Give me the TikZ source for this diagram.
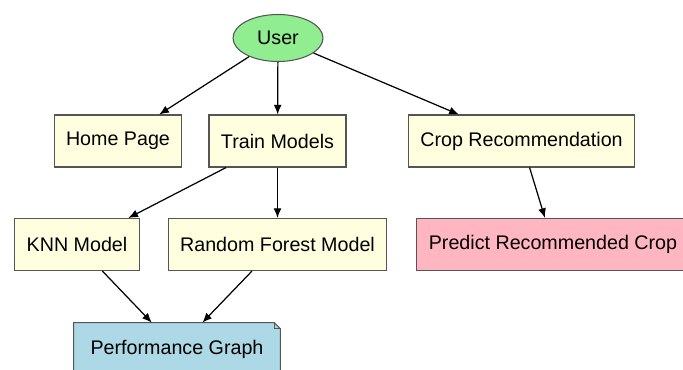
\documentclass[tikz,border=0pt]{standalone}
\usepackage{fontspec}
\setmainfont{Liberation Sans}
\usetikzlibrary{positioning, calc, arrows.meta, shapes.geometric, backgrounds}

\definecolor{usergreen}{HTML}{90EE90}
\definecolor{boxyellow}{HTML}{FFFFE0}
\definecolor{boxpink}{HTML}{FFB6C1}
\definecolor{boxblue}{HTML}{ADD8E6}
\definecolor{edgegray}{HTML}{555555}

\begin{document}
\begin{tikzpicture}[
        actor/.style={
          align=center, ellipse, draw=edgegray, fill=usergreen, line width=0.6pt,
          minimum width=1.8cm, minimum height=0.94cm, inner sep=0pt
        },
        module/.style={
          align=center, rectangle, draw=edgegray, fill=boxyellow, line width=0.6pt,
          minimum height=1.04cm, inner xsep=0.24cm, inner ysep=0pt
        },
        result/.style={
          module, fill=boxpink
        },
        report/.style={
          align=center, rectangle, minimum width=4.12cm, minimum height=1.04cm
        },
        link/.style={
          ->, line width=0.7pt
        },
        >={Latex[length=5.5pt,width=4.5pt]},
        font=\fontsize{11.2}{13}\selectfont,
      ]
        \useasboundingbox (0,0) rectangle (13.66,-7.38);
        \clip (0,0) rectangle (13.66,-7.38);

        % User
        \node [actor] (user) at (5.56,-0.76) {User};

        % First level
        \node [module] (home) at (2.36,-2.82) {Home Page};
        \node [module] (train) at (5.55,-2.82) {Train Models};
        \node [module] (croprec) at (10.43,-2.82) {Crop Recommendation};

        % Second level
        \node [module] (knn) at (1.54,-4.89) {KNN Model};
        \node [module] (forest) at (5.55,-4.89) {Random Forest Model};
        \node [result] (predict) at (11.06,-4.89) {Predict Recommended Crop};

        % Note with folded corner
        \node [report] (perf) at (3.54,-6.98) {Performance Graph};
        \begin{scope}[on background layer]
          \filldraw [draw=edgegray, fill=boxblue, line width=0.6pt]
            (perf.south west) -- (perf.north west)
            -- ($(perf.north east)+(-0.12,0)$) -- ($(perf.north east)+(0,-0.12)$)
            -- (perf.south east) -- cycle;
          \draw [edgegray, line width=0.6pt]
            ($(perf.north east)+(-0.12,0)$) -- ($(perf.north east)+(-0.12,-0.12)$)
            -- ($(perf.north east)+(0,-0.12)$);
        \end{scope}

        % Edges
        \draw [link] (user) -- (home);
        \draw [link] (user) -- (train);
        \draw [link] (user) -- (croprec);
        \draw [link] (train) -- (knn);
        \draw [link] (train) -- (forest);
        \draw [link] (croprec) -- (predict);
        \draw [link] (knn) -- (perf);
        \draw [link] (forest) -- (perf);

      \end{tikzpicture}
\end{document}
